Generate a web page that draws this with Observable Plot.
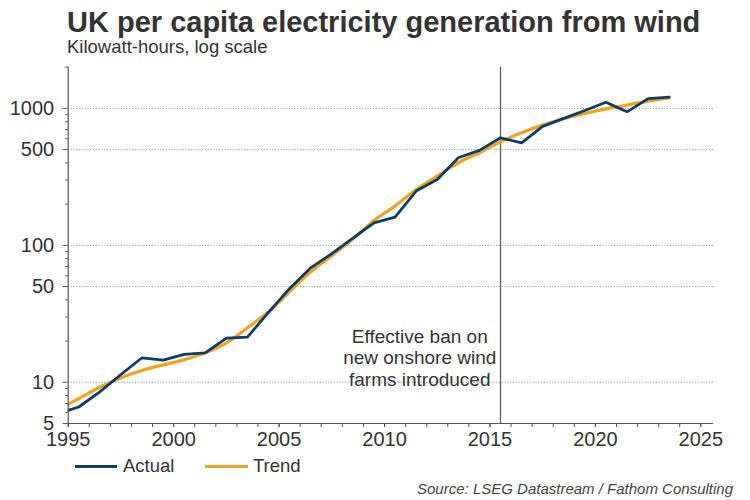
<!DOCTYPE html>
<html>
<head>
<meta charset="utf-8">
<script src="https://cdn.jsdelivr.net/npm/d3@7"></script>
<script src="https://cdn.jsdelivr.net/npm/@observablehq/plot@0.6"></script>
<style>
  html, body { margin: 0; padding: 0; background: #fff; }
  body { width: 750px; height: 500px; position: relative; overflow: hidden;
         font-family: "Liberation Sans", Arial, sans-serif; color: #333; }
  .abs { position: absolute; line-height: 1; white-space: nowrap; }
  #title { left: 67px; top: 7.5px; font-size: 29px; font-weight: bold; color: #333; }
  #subtitle { left: 67px; top: 37.5px; font-size: 18.5px; color: #333; }
  #chart { position: absolute; left: 0; top: 60px; }
  #legend { left: 0; top: 457px; font-size: 18.5px; width: 750px; height: 20px; }
  .sw { position: absolute; height: 3px; top: 8px; }
  .lt { position: absolute; top: 0; }
  #source { right: 17px; top: 481px; font-size: 15px; font-style: italic; color: #444; }
</style>
</head>
<body>
<div id="title" class="abs">UK per capita electricity generation from wind</div>
<div id="subtitle" class="abs">Kilowatt-hours, log scale</div>
<div id="chart"></div>
<div id="legend" class="abs">
  <div class="sw" style="left:75px;width:42px;background:#0b3c6e"></div>
  <div class="lt" style="left:123px">Actual</div>
  <div class="sw" style="left:205px;width:43px;background:#f4a21c"></div>
  <div class="lt" style="left:253px">Trend</div>
</div>
<div id="source" class="abs">Source: LSEG Datastream / Fathom Consulting</div>
<script>
// Annual values (plotted at mid-year)
const years = [1994, 1995, 1996, 1997, 1998, 1999, 2000, 2001, 2002, 2003,
               2004, 2005, 2006, 2007, 2008, 2009, 2010, 2011, 2012, 2013,
               2014, 2015, 2016, 2017, 2018, 2019, 2020, 2021, 2022, 2023];
const actual = [5.9, 6.6, 8.5, 11.4, 15.1, 14.5, 16.0, 16.4, 21.0, 21.4,
                32.4, 48.5, 68.5, 87, 113, 146, 161, 249, 303, 436,
                494, 610, 560, 740, 845, 966, 1110, 944, 1180, 1208];
const trend = [6.3, 7.6, 9.2, 10.8, 12.2, 13.4, 14.6, 16.4, 19.4, 25.0,
               32.7, 46, 64, 84, 111, 152, 194, 256, 321, 401,
               474, 570, 664, 755, 840, 919, 993, 1057, 1130, 1194];

const banYear = 2015;
const annotationText = ["Effective ban on\nnew onshore wind\nfarms introduced"];
const annotationAt = {year: 2011.67, value: 15.2};

const yTickLabels = [5, 10, 50, 100, 500, 1000];
const yMinorTicks = [6, 7, 8, 9, 20, 30, 40, 60, 70, 80, 90,
                     200, 300, 400, 600, 700, 800, 900, 2000];
const gridValues = [10, 50, 100, 500, 1000];
const xTickLabels = [1995, 2000, 2005, 2010, 2015, 2020, 2025];
const xMinorTicks = d3.range(1995, 2026);

const mid = (i) => years[i] + 0.5;

const font = "Liberation Sans, Arial, sans-serif";

const chart = Plot.plot({
  width: 750,
  height: 400,
  marginLeft: 67.7,
  marginRight: 37,
  marginTop: 6.7,
  marginBottom: 37,
  style: {fontFamily: font, color: "#333", background: "transparent"},
  x: {domain: [1995, 2025.6], label: null},
  y: {type: "log", domain: [5, 2000], label: null},
  marks: [
    Plot.ruleY(gridValues, {stroke: "#999", strokeWidth: 1, strokeDasharray: "1.2,1.6"}),
    Plot.ruleX([banYear + 0.5], {stroke: "#555", strokeWidth: 1.2}),
    Plot.text(annotationText, {
      x: () => annotationAt.year, y: () => annotationAt.value,
      text: d => d, textAnchor: "middle", lineAnchor: "middle",
      lineHeight: 1.14, fontSize: 19, fill: "#333", fontFamily: font
    }),
    Plot.line(trend, {x: (d, i) => mid(i), y: d => d, stroke: "#f4a21c",
      strokeWidth: 3.2, curve: "monotone-x", clip: true}),
    Plot.line(actual, {x: (d, i) => mid(i), y: d => d, stroke: "#0b3c6e",
      strokeWidth: 2.8, clip: true}),
    Plot.ruleX([1995], {stroke: "#555", strokeWidth: 1.2}),
    Plot.ruleY([5], {stroke: "#555", strokeWidth: 1.2}),
    Plot.axisY(yMinorTicks, {tickSize: 2.5, tickFormat: () => "", stroke: "#555", label: null}),
    Plot.axisY(yTickLabels, {tickSize: 5, tickFormat: () => "", stroke: "#555", label: null}),
    Plot.text(yTickLabels, {y: d => d, text: d => String(d), frameAnchor: "left",
      textAnchor: "end", dx: -14, fontSize: 20, fill: "#333", fontFamily: font}),
    Plot.axisX(xMinorTicks, {tickSize: 4, tickFormat: () => "", stroke: "#555", label: null}),
    Plot.axisX(xTickLabels, {tickSize: 4, tickPadding: 4, tickFormat: d => String(d),
      fontSize: 20, fill: "#333", stroke: "#555", label: null})
  ]
});
document.getElementById("chart").appendChild(chart);
</script>
</body>
</html>
